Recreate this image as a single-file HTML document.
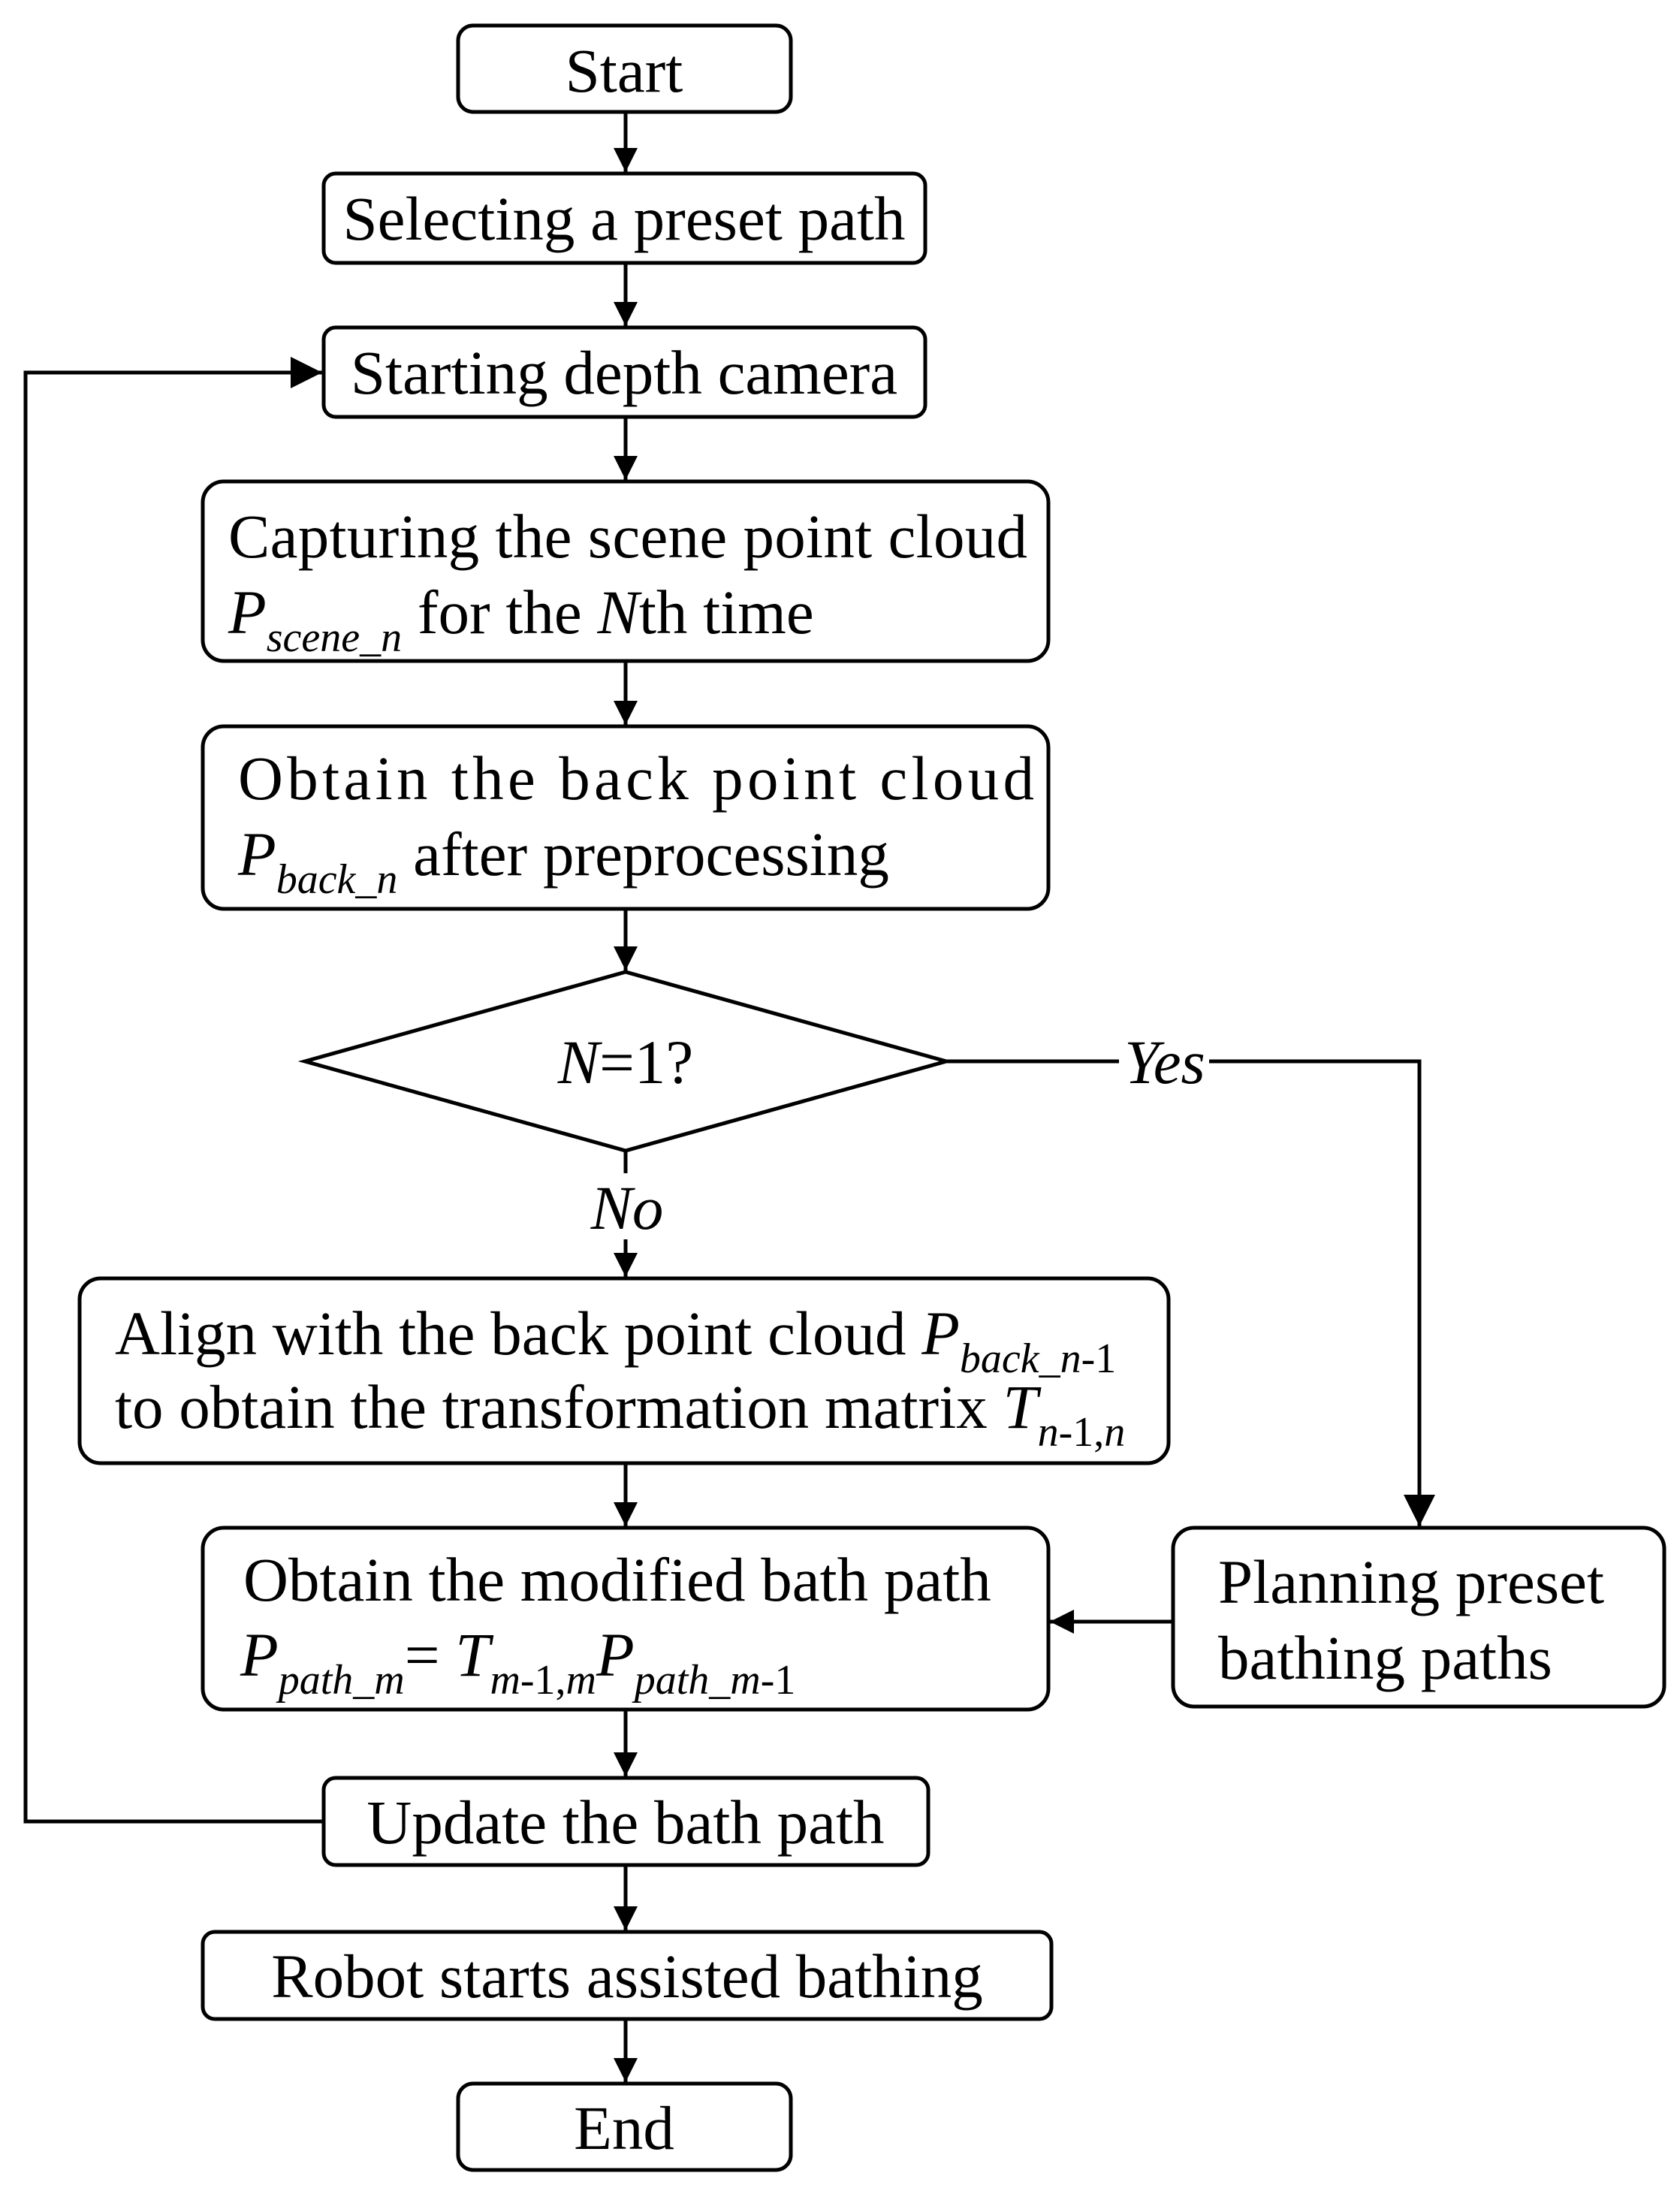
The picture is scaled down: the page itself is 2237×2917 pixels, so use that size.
<!DOCTYPE html>
<html><head><meta charset="utf-8"><style>
html,body{margin:0;padding:0;background:#fff;}
svg{display:block;}
text{font-family:"Liberation Serif",serif;fill:#000;}
.t{font-size:83px;}
.i{font-style:italic;}
.s{font-size:56px;font-style:italic;}
.r{font-size:56px;}
</style></head><body>
<svg width="2237" height="2917" viewBox="0 0 2237 2917" xmlns="http://www.w3.org/2000/svg">
<defs>
<marker id="b" viewBox="0 0 10 10" refX="10" refY="5" markerWidth="42" markerHeight="42" orient="auto" markerUnits="userSpaceOnUse"><path d="M0,0 L10,5 L0,10 z" fill="#000"/></marker>
<marker id="c" viewBox="0 0 10 10" refX="10" refY="5" markerWidth="32" markerHeight="32" orient="auto" markerUnits="userSpaceOnUse"><path d="M0,0 L10,5 L0,10 z" fill="#000"/></marker>
</defs>
<g fill="none" stroke="#000" stroke-width="5">
<rect x="610" y="34" width="443" height="115" rx="20"/>
<rect x="431" y="231" width="801" height="119" rx="16"/>
<rect x="431" y="436" width="801" height="119" rx="16"/>
<rect x="270" y="641" width="1126" height="239" rx="28"/>
<rect x="270" y="967" width="1126" height="243" rx="28"/>
<polygon points="406,1413 833,1294 1260,1413 833,1532"/>
<rect x="106" y="1702" width="1450" height="246" rx="28"/>
<rect x="270" y="2034" width="1126" height="242" rx="28"/>
<rect x="1562" y="2034" width="654" height="238" rx="28"/>
<rect x="431" y="2367" width="805" height="116" rx="16"/>
<rect x="270" y="2572" width="1130" height="116" rx="16"/>
<rect x="610" y="2774" width="443" height="115" rx="20"/>
<g marker-end="url(#c)">
<line x1="833" y1="149" x2="833" y2="229"/>
<line x1="833" y1="350" x2="833" y2="434"/>
<line x1="833" y1="555" x2="833" y2="639"/>
<line x1="833" y1="880" x2="833" y2="965"/>
<line x1="833" y1="1210" x2="833" y2="1292"/>
<line x1="833" y1="1650" x2="833" y2="1700"/>
<line x1="833" y1="1948" x2="833" y2="2032"/>
<line x1="833" y1="2276" x2="833" y2="2365"/>
<line x1="833" y1="2483" x2="833" y2="2570"/>
<line x1="833" y1="2688" x2="833" y2="2772"/>
<line x1="1562" y1="2159" x2="1398" y2="2159"/>
</g>
<line x1="833" y1="1532" x2="833" y2="1562"/>
<polyline points="431,2425 34,2425 34,496 429,496" marker-end="url(#b)"/>
<polyline points="1260,1413 1490,1413"/>
<polyline points="1610,1413 1890,1413 1890,2032" marker-end="url(#b)"/>
</g>
<text class="t" x="831" y="122" text-anchor="middle">Start</text>
<text class="t" x="831" y="319" text-anchor="middle">Selecting a preset path</text>
<text class="t" x="831" y="524" text-anchor="middle">Starting depth camera</text>
<text class="t" x="304" y="742" textLength="1064">Capturing the scene point cloud</text>
<text class="t" x="304" y="843"><tspan class="i">P</tspan><tspan class="s" dy="24">scene_n</tspan><tspan dy="-24"> for the </tspan><tspan class="i">N</tspan>th time</text>
<text class="t" x="317" y="1064" textLength="1060">Obtain the back point cloud</text>
<text class="t" x="317" y="1165"><tspan class="i">P</tspan><tspan class="s" dy="24">back_n</tspan><tspan dy="-24"> after preprocessing</tspan></text>
<text class="t" x="833" y="1442" text-anchor="middle"><tspan class="i">N</tspan>=1?</text>
<text class="t i" x="1551" y="1442" text-anchor="middle">Yes</text>
<rect x="795" y="1570" width="80" height="78" fill="#fff"/>
<text class="t i" x="835" y="1636" text-anchor="middle">No</text>
<text class="t" x="153" y="1803">Align with the back point cloud <tspan class="i">P</tspan><tspan class="s" dy="24">back_n</tspan><tspan class="r">-1</tspan></text>
<text class="t" x="153" y="1901">to obtain the transformation matrix <tspan class="i">T</tspan><tspan class="s" dy="24">n</tspan><tspan class="r">-1,</tspan><tspan class="s">n</tspan></text>
<text class="t" x="324" y="2131">Obtain the modified bath path</text>
<text class="t" x="320" y="2231"><tspan class="i">P</tspan><tspan class="s" dy="24">path_m</tspan><tspan dy="-24">= </tspan><tspan class="i">T</tspan><tspan class="s" dy="24">m</tspan><tspan class="r">-1,</tspan><tspan class="s">m</tspan><tspan class="i" dy="-24">P</tspan><tspan class="s" dy="24">path_m</tspan><tspan class="r">-1</tspan></text>
<text class="t" x="1622" y="2134">Planning preset</text>
<text class="t" x="1622" y="2235">bathing paths</text>
<text class="t" x="833" y="2454" text-anchor="middle">Update the bath path</text>
<text class="t" x="835" y="2659" text-anchor="middle">Robot starts assisted bathing</text>
<text class="t" x="831" y="2861" text-anchor="middle">End</text>
</svg>
</body></html>
